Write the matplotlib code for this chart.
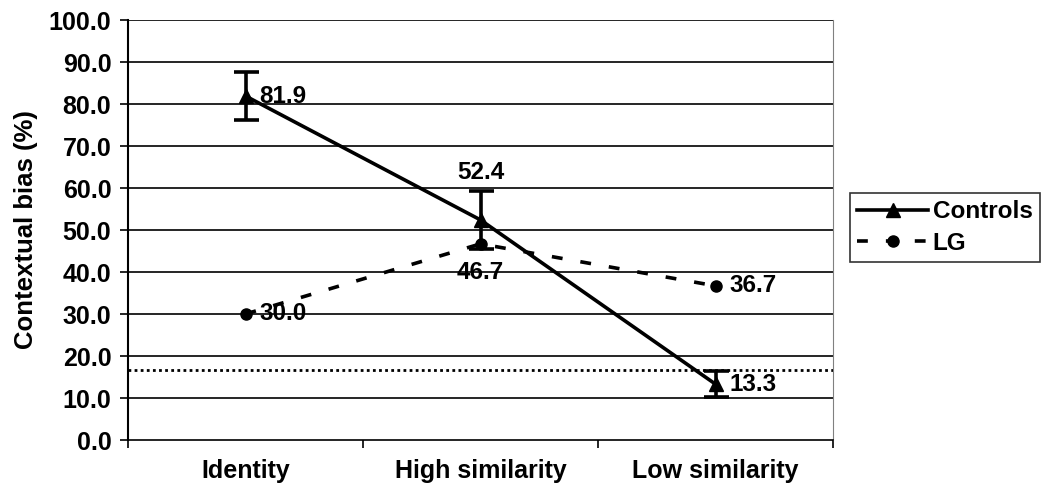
import matplotlib.pyplot as plt
from matplotlib.lines import Line2D
import numpy as np

plt.rcParams['font.family'] = ['Liberation Sans', 'DejaVu Sans']
plt.rcParams['font.weight'] = 'bold'

categories = ['Identity', 'High similarity', 'Low similarity']
controls = [81.9, 52.4, 13.3]
controls_err = [5.7, 6.9, 3.1]
lg = [30.0, 46.7, 36.7]
chance = 16.7

fig = plt.figure(figsize=(10.49, 4.99), dpi=100)
ax = fig.add_axes([128 / 1049, 1 - 440 / 499, 705 / 1049, 420 / 499])

x = np.arange(len(categories))

for y in np.arange(10, 101, 10):
    ax.axhline(y, color='black', lw=1.2, zorder=1)
ax.axhline(chance, color='black', lw=2.0, ls=(0, (1, 1.2)), zorder=2)

ax.errorbar(x, controls, yerr=controls_err, color='black', lw=2.6, marker='^',
            ms=10, capsize=9, capthick=2.6, elinewidth=2.6, zorder=4)
ax.plot(x, lg, color='black', lw=2.6, ls=(0, (3, 5)), marker='o', ms=8, zorder=3)

lbl = dict(fontsize=17.5, fontweight='bold', zorder=5)
ax.annotate(f'{controls[0]:.1f}', (x[0], controls[0]), xytext=(10, 0),
            textcoords='offset points', va='center', ha='left', **lbl)
ax.annotate(f'{controls[1]:.1f}', (x[1], controls[1]), xytext=(0, 26),
            textcoords='offset points', va='bottom', ha='center', **lbl)
ax.annotate(f'{controls[2]:.1f}', (x[2], controls[2]), xytext=(10, 0),
            textcoords='offset points', va='center', ha='left', **lbl)
ax.annotate(f'{lg[0]:.1f}', (x[0], lg[0]), xytext=(10, 0),
            textcoords='offset points', va='center', ha='left', **lbl)
ax.annotate(f'{lg[1]:.1f}', (x[1], lg[1]), xytext=(0, -12),
            textcoords='offset points', va='top', ha='center', **lbl)
ax.annotate(f'{lg[2]:.1f}', (x[2], lg[2]), xytext=(10, 0),
            textcoords='offset points', va='center', ha='left', **lbl)

ax.set_xlim(-0.5, 2.5)
ax.set_ylim(0, 100)
ax.set_yticks(np.arange(0, 101, 10))
ax.set_yticklabels([f'{v:.1f}' for v in np.arange(0, 101, 10)], fontsize=18, fontweight='bold')
ax.set_xticks(x)
ax.set_xticklabels(categories, fontsize=18, fontweight='bold')
ax.set_xticks([-0.5, 0.5, 1.5, 2.5], minor=True)
ax.tick_params(axis='x', which='major', length=0, pad=14)
ax.tick_params(axis='x', which='minor', length=6, width=1.2, direction='out')
ax.tick_params(axis='y', length=6, width=1.2, direction='out', pad=6)
ax.set_ylabel('Contextual bias (%)', fontsize=18.5, fontweight='bold', labelpad=8)

ax.spines['left'].set_linewidth(1.5)
ax.spines['bottom'].set_linewidth(1.2)
ax.spines['top'].set_visible(False)
ax.spines['right'].set_color('gray')

handles = [
    Line2D([], [], color='black', lw=2.6, marker='^', ms=10),
    Line2D([], [], color='black', lw=2.6, ls=(0, (3, 5)), marker='o', ms=8),
]
leg = fig.legend(handles, ['Controls', 'LG'], loc='upper left',
                 bbox_to_anchor=(850 / 1049, 1 - 193 / 499),
                 frameon=True, fancybox=False, edgecolor='black', fontsize=17.5,
                 handlelength=2.9, borderpad=0.3, labelspacing=0.35, handletextpad=0.2,
                 borderaxespad=0)
leg.get_frame().set_linewidth(1.2)

fig.savefig('out.png', dpi=100)
